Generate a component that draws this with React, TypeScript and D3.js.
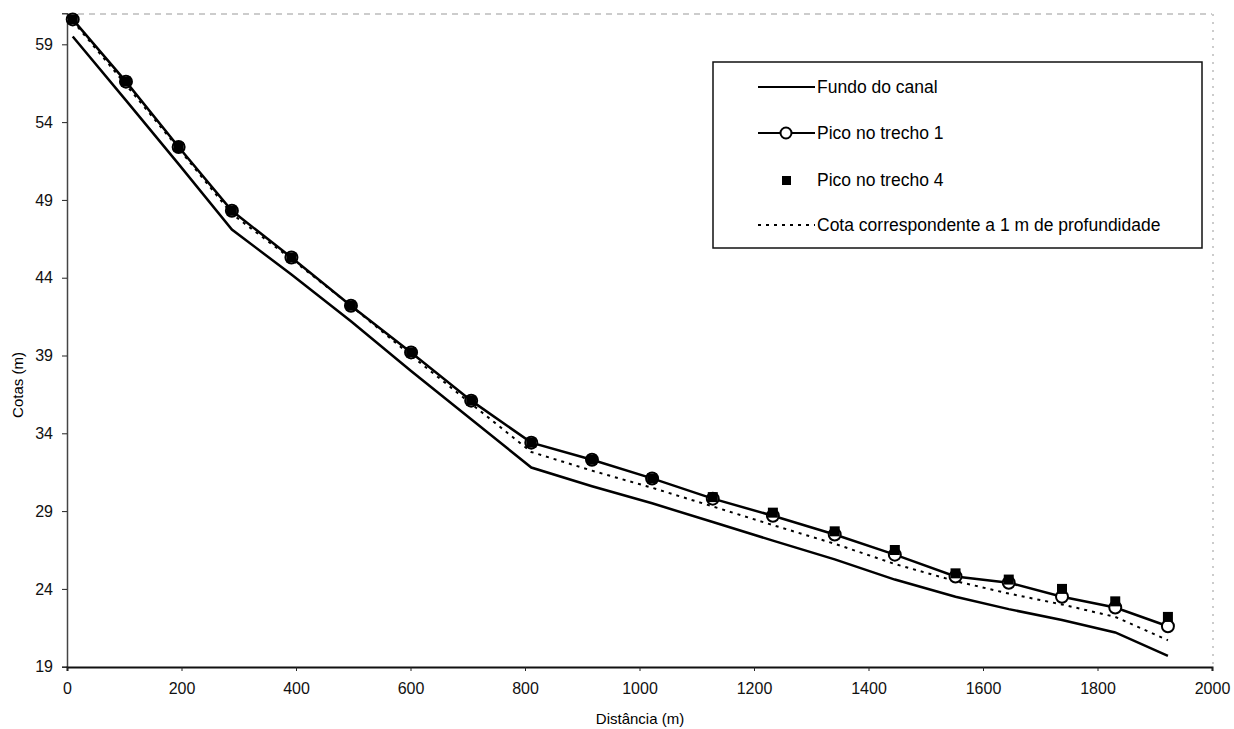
import { useEffect, useRef } from 'react';
import * as d3 from 'd3';

// Distâncias ao longo do canal (m)
const distancias = [10, 103, 195, 288, 392, 496, 601, 706, 811, 917, 1022, 1128, 1233, 1341, 1446, 1552, 1645, 1738, 1831, 1923];

// Cotas (m) de cada série
const fundoCanal = [59.5, 55.4, 51.3, 47.1, 44.2, 41.2, 38.0, 34.9, 31.8, 30.6, 29.5, 28.3, 27.1, 25.9, 24.6, 23.5, 22.7, 22.0, 21.2, 19.7];
const picoTrecho1 = [60.6, 56.6, 52.4, 48.3, 45.3, 42.2, 39.2, 36.1, 33.4, 32.3, 31.1, 29.8, 28.7, 27.5, 26.2, 24.8, 24.4, 23.5, 22.8, 21.6];
const picoTrecho4 = [60.6, 56.6, 52.4, 48.3, 45.3, 42.2, 39.2, 36.1, 33.4, 32.3, 31.1, 29.9, 28.9, 27.7, 26.5, 25.0, 24.6, 24.0, 23.2, 22.2];
const cota1m = [60.5, 56.4, 52.3, 48.1, 45.2, 42.2, 39.0, 35.9, 32.8, 31.6, 30.5, 29.3, 28.1, 26.9, 25.6, 24.5, 23.7, 23.0, 22.2, 20.7];

// Marcas dos eixos
const ticksY = [19, 24, 29, 34, 39, 44, 49, 54, 59];
const ticksX = [0, 200, 400, 600, 800, 1000, 1200, 1400, 1600, 1800, 2000];

const legendas = ['Fundo do canal', 'Pico no trecho 1', 'Pico no trecho 4', 'Cota correspondente a 1 m de profundidade'];

export default function App() {
  const chartRef = useRef<HTMLDivElement>(null);

  useEffect(() => {
    if (!chartRef.current) return;
    d3.select(chartRef.current).selectAll('*').remove();

    const W = 1234;
    const H = 729;
    const font = 'Arial, "Liberation Sans", sans-serif';

    const svg = d3.select(chartRef.current)
      .append('svg')
      .attr('width', W)
      .attr('height', H)
      .style('display', 'block')
      .style('background', '#fff');

    const x = d3.scaleLinear().domain([0, 2000]).range([67, 1212]);
    const y = d3.scaleLinear().domain([19, 61]).range([666.7, 13.2]);

    // bordas superior e direita (quase apagadas)
    svg.append('line')
      .attr('x1', 67).attr('x2', 1212).attr('y1', 14).attr('y2', 14)
      .attr('stroke', '#999').attr('stroke-width', 1).attr('stroke-dasharray', '6 5');
    svg.append('line')
      .attr('x1', 1213).attr('x2', 1213).attr('y1', 14).attr('y2', 667)
      .attr('stroke', '#999').attr('stroke-width', 1).attr('stroke-dasharray', '2 6');

    // Eixo Y
    const axisY = svg.append('g')
      .attr('transform', 'translate(67,0)')
      .call(d3.axisLeft(y).tickValues(ticksY).tickSize(5).tickPadding(9).tickFormat(d => String(d)));
    axisY.select('.domain').attr('stroke', '#444').attr('stroke-width', 1.5);
    axisY.selectAll('line').attr('stroke', '#222');
    axisY.selectAll('text').style('font-family', font).style('font-size', '16px').attr('fill', '#111');

    // Eixo X
    const axisX = svg.append('g')
      .attr('transform', 'translate(0,667)')
      .call(d3.axisBottom(x).tickValues(ticksX).tickSize(4).tickPadding(12).tickFormat(d => String(d)));
    axisX.select('.domain').attr('stroke', '#111').attr('stroke-width', 2);
    axisX.selectAll('line').attr('stroke', '#222');
    axisX.selectAll('text').style('font-family', font).style('font-size', '16px').attr('fill', '#111');

    // Títulos dos eixos
    svg.append('text')
      .attr('x', 640).attr('y', 724)
      .attr('text-anchor', 'middle')
      .style('font-family', font).style('font-size', '15px')
      .text('Distância (m)');
    svg.append('text')
      .attr('transform', 'translate(23,385) rotate(-90)')
      .attr('text-anchor', 'middle')
      .style('font-family', font).style('font-size', '15px')
      .text('Cotas (m)');

    const line = d3.line<number>()
      .x((_, i) => x(distancias[i]))
      .y(d => y(d));

    const plot = svg.append('g');

    plot.append('path')
      .datum(fundoCanal)
      .attr('d', line)
      .attr('fill', 'none').attr('stroke', '#000').attr('stroke-width', 2.5);

    plot.append('path')
      .datum(cota1m)
      .attr('d', line)
      .attr('fill', 'none').attr('stroke', '#000').attr('stroke-width', 2).attr('stroke-dasharray', '3 5');

    plot.append('path')
      .datum(picoTrecho1)
      .attr('d', line)
      .attr('fill', 'none').attr('stroke', '#000').attr('stroke-width', 2.5);

    plot.selectAll('.circulo')
      .data(picoTrecho1)
      .enter()
      .append('circle')
      .attr('class', 'circulo')
      .attr('cx', (_, i) => x(distancias[i]))
      .attr('cy', d => y(d))
      .attr('r', 6)
      .attr('fill', '#fff').attr('stroke', '#000').attr('stroke-width', 2);

    plot.selectAll('.quadrado')
      .data(picoTrecho4)
      .enter()
      .append('rect')
      .attr('class', 'quadrado')
      .attr('x', (_, i) => x(distancias[i]) - 5)
      .attr('y', d => y(d) - 5)
      .attr('width', 10).attr('height', 10)
      .attr('fill', '#000');

    // Legenda
    const leg = svg.append('g');
    leg.append('rect')
      .attr('x', 713).attr('y', 62).attr('width', 489).attr('height', 186)
      .attr('fill', '#fff').attr('stroke', '#111').attr('stroke-width', 1.5);

    const rows = [87, 133, 180, 225];
    legendas.forEach((label, i) => {
      const cy = rows[i];
      if (i === 0 || i === 1) {
        leg.append('line')
          .attr('x1', 758).attr('x2', 815).attr('y1', cy).attr('y2', cy)
          .attr('stroke', '#000').attr('stroke-width', 2);
      }
      if (i === 1) {
        leg.append('circle').attr('cx', 786).attr('cy', cy).attr('r', 5.5)
          .attr('fill', '#fff').attr('stroke', '#000').attr('stroke-width', 2);
      }
      if (i === 2) {
        leg.append('rect').attr('x', 782).attr('y', cy - 4).attr('width', 9).attr('height', 9).attr('fill', '#000');
      }
      if (i === 3) {
        leg.append('line')
          .attr('x1', 758).attr('x2', 815).attr('y1', cy).attr('y2', cy)
          .attr('stroke', '#000').attr('stroke-width', 2).attr('stroke-dasharray', '3 5');
      }
      leg.append('text')
        .attr('x', 817).attr('y', cy + 6)
        .style('font-family', font).style('font-size', '17.5px')
        .text(label);
    });
  }, []);

  return <div ref={chartRef} style={{ position: 'absolute', left: 0, top: 0 }}></div>;
}
